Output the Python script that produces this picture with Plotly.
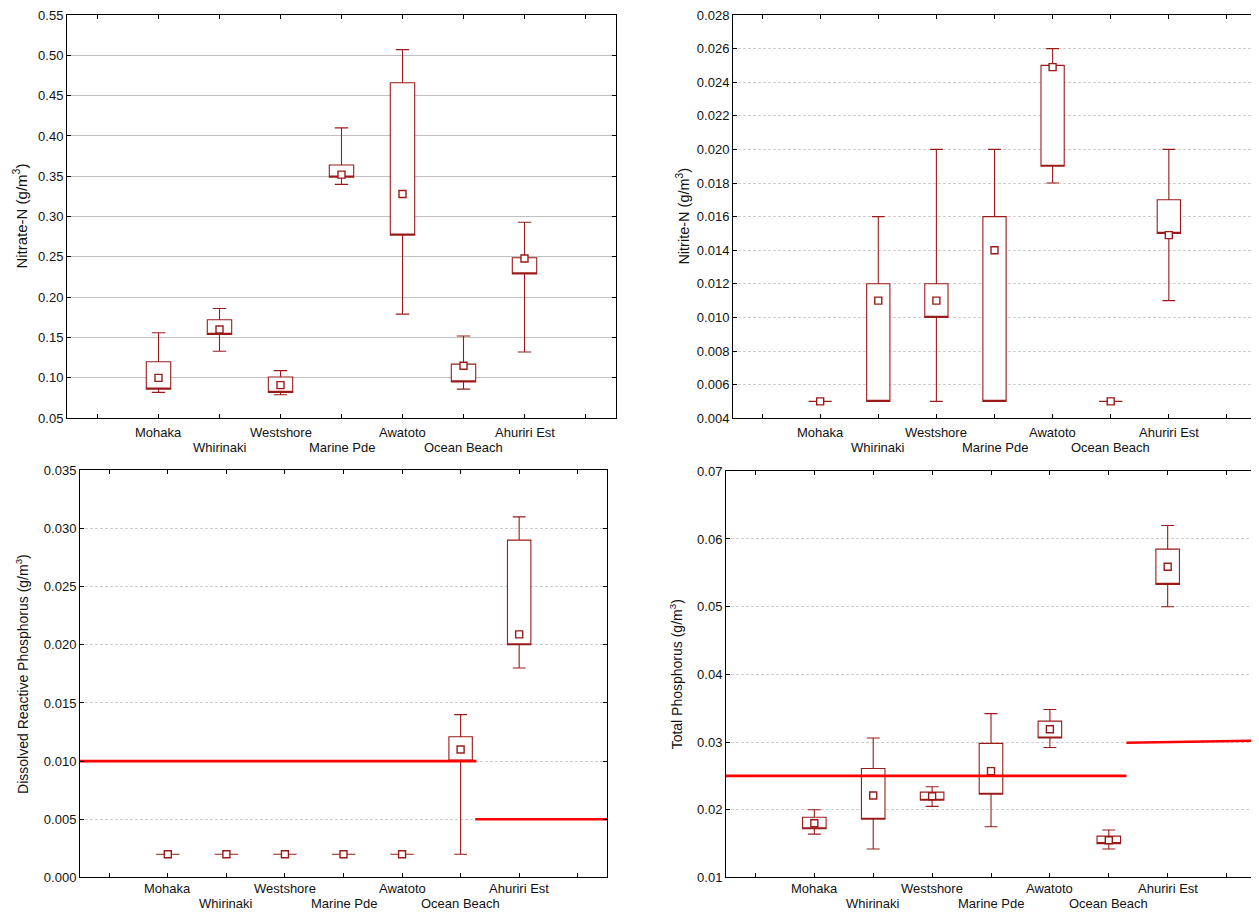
import plotly.graph_objects as go

# page body has an 8px default margin; figure is sized to fill the rest
OFF = 8
W, H = 1259 - OFF, 912 - OFF

sites = ["Mohaka", "Whirinaki", "Westshore", "Marine Pde", "Awatoto", "Ocean Beach", "Ahuriri Est"]
xpos = list(range(len(sites)))

# Nitrate-N (g/m3): min, q1, median, q3, max
no3_min = [0.082, 0.133, 0.079, 0.340, 0.179, 0.086, 0.132]
no3_q1 = [0.086, 0.154, 0.082, 0.349, 0.277, 0.095, 0.229]
no3_med = [0.100, 0.160, 0.091, 0.352, 0.328, 0.115, 0.248]
no3_q3 = [0.120, 0.172, 0.101, 0.364, 0.466, 0.117, 0.249]
no3_max = [0.156, 0.186, 0.109, 0.410, 0.507, 0.152, 0.293]

# Nitrite-N (g/m3)
no2_min = [0.005, 0.005, 0.005, 0.005, 0.018, 0.005, 0.011]
no2_q1 = [0.005, 0.005, 0.010, 0.005, 0.019, 0.005, 0.015]
no2_med = [0.005, 0.011, 0.011, 0.014, 0.0249, 0.005, 0.0149]
no2_q3 = [0.005, 0.012, 0.012, 0.016, 0.025, 0.005, 0.017]
no2_max = [0.005, 0.016, 0.020, 0.020, 0.026, 0.005, 0.020]

# Dissolved Reactive Phosphorus (g/m3)
drp_min = [0.002, 0.002, 0.002, 0.002, 0.002, 0.002, 0.018]
drp_q1 = [0.002, 0.002, 0.002, 0.002, 0.002, 0.010, 0.020]
drp_med = [0.002, 0.002, 0.002, 0.002, 0.002, 0.011, 0.0209]
drp_q3 = [0.002, 0.002, 0.002, 0.002, 0.002, 0.0121, 0.029]
drp_max = [0.002, 0.002, 0.002, 0.002, 0.002, 0.014, 0.031]

# Total Phosphorus (g/m3)
tp_min = [0.0164, 0.0142, 0.0205, 0.0175, 0.0292, 0.0142, 0.050]
tp_q1 = [0.0172, 0.0186, 0.0214, 0.0223, 0.0306, 0.0150, 0.0533]
tp_med = [0.0180, 0.0221, 0.0220, 0.0257, 0.0319, 0.0155, 0.0559]
tp_q3 = [0.0189, 0.0261, 0.0226, 0.0298, 0.0331, 0.0161, 0.0585]
tp_max = [0.0200, 0.0306, 0.0234, 0.0342, 0.0348, 0.0170, 0.0620]

# Guideline lines (x breakpoints in site index units, values)
drp_guide_x = [[-1.5, 5.27], [5.25, 7.5]]
drp_guide_y = [[0.010, 0.010], [0.005, 0.005]]
tp_guide_x = [[-1.5, 5.3], [5.3, 7.5]]
tp_guide_y = [[0.025, 0.025], [0.0299, 0.0302]]

panels = [
    dict(mn=no3_min, q1=no3_q1, med=no3_med, q3=no3_q3, mx=no3_max,
         yr=[0.05, 0.55], dt=0.05, fmt=".2f", title="Nitrate-N (g/m<sup>3</sup>)", tfs=15,
         px=(67, 616), py=(8, 418), tx=20, grid="solid", gx=None, gy=None, ls=(-5, -20)),
    dict(mn=no2_min, q1=no2_q1, med=no2_med, q3=no2_q3, mx=no2_max,
         yr=[0.004, 0.028], dt=0.002, fmt=".3f", title="Nitrite-N (g/m<sup>3</sup>)", tfs=14.5,
         px=(733, 1256), py=(8, 418), tx=683, grid="3px,2px", gx=None, gy=None, ls=(-5, -20)),
    dict(mn=drp_min, q1=drp_q1, med=drp_med, q3=drp_q3, mx=drp_max,
         yr=[0.0, 0.035], dt=0.005, fmt=".3f", title="Dissolved Reactive Phosphorus (g/m<sup>3</sup>)", tfs=14,
         px=(80, 607), py=(471, 885), tx=22, grid="3px,2px", gx=drp_guide_x, gy=drp_guide_y, ls=(-2, -17)),
    dict(mn=tp_min, q1=tp_q1, med=tp_med, q3=tp_q3, mx=tp_max,
         yr=[0.01, 0.07], dt=0.01, fmt=".2f", title="Total Phosphorus (g/m<sup>3</sup>)", tfs=14,
         px=(726, 1256), py=(472, 885), tx=676, grid="3px,2px", gx=tp_guide_x, gy=tp_guide_y, ls=(-2, -17)),
]

BOXC = "#9a1a1a"
FONT = "Liberation Sans, Arial, sans-serif"

fig = go.Figure()
annotations = []
layout_axes = {}

for i, p in enumerate(panels, start=1):
    xa = "x" if i == 1 else f"x{i}"
    ya = "y" if i == 1 else f"y{i}"
    xkey = "xaxis" if i == 1 else f"xaxis{i}"
    ykey = "yaxis" if i == 1 else f"yaxis{i}"

    fig.add_trace(go.Box(
        x=xpos, q1=p["q1"], median=p["q1"], q3=p["q3"],
        lowerfence=p["mn"], upperfence=p["mx"],
        width=0.4, whiskerwidth=0.55,
        line=dict(color=BOXC, width=1.1), fillcolor="white",
        boxpoints=False, showlegend=False, xaxis=xa, yaxis=ya, hoverinfo="skip",
    ))
    fig.add_trace(go.Scatter(
        x=xpos, y=p["med"], mode="markers",
        marker=dict(symbol="square", size=7, color="white", line=dict(color=BOXC, width=1.4)),
        showlegend=False, xaxis=xa, yaxis=ya, hoverinfo="skip",
    ))
    if p["gx"] is not None:
        for gx, gy in zip(p["gx"], p["gy"]):
            fig.add_trace(go.Scatter(
                x=gx, y=gy, mode="lines", line=dict(color="#ff0000", width=2.6),
                showlegend=False, xaxis=xa, yaxis=ya, hoverinfo="skip",
            ))

    x0, x1 = p["px"]
    yt, yb = p["py"]
    layout_axes[xkey] = dict(
        domain=[(x0 - OFF) / W, min(1.0, (x1 - OFF) / W)], range=[-1.5, 7.5], anchor=ya,
        tickvals=list(range(-1, 8)), showticklabels=False,
        ticks="inside", ticklen=4, tickcolor="black", tickwidth=1,
        showline=True, linecolor="black", linewidth=1, mirror="allticks",
        showgrid=False, zeroline=False, fixedrange=True,
    )
    nt = int(round((p["yr"][1] - p["yr"][0]) / p["dt"]))
    layout_axes[ykey] = dict(
        domain=[max(0.0, 1 - (yb - OFF) / H), min(1.0, 1 - (yt - OFF) / H)], range=p["yr"], anchor=xa,
        tickvals=[p["yr"][0] + k * p["dt"] for k in range(nt + 1)], tickformat=p["fmt"],
        ticks="inside", ticklen=4, tickcolor="black", tickwidth=1, ticklabeloverflow="allow",
        showline=True, linecolor="black", linewidth=1, mirror="allticks",
        showgrid=True, gridcolor="#c0c0c0" if p["grid"] == "solid" else "#cfcfcf",
        griddash=p["grid"], gridwidth=1,
        zeroline=False, fixedrange=True, tickfont=dict(size=13, color="#111"),
    )
    # y-axis title
    annotations.append(dict(
        text=p["title"], textangle=-90, xref="paper", yref="paper",
        x=(p["tx"] - OFF) / W, y=1 - ((yt + yb) / 2 - OFF) / H, xanchor="center", yanchor="middle",
        showarrow=False, font=dict(size=p["tfs"], color="#111", family=FONT),
    ))
    # staggered category labels
    for k, s in enumerate(sites):
        annotations.append(dict(
            text=s, xref=xa, yref=f"{ya} domain", x=k, y=0,
            xanchor="center", yanchor="top", yshift=p["ls"][k % 2],
            showarrow=False, font=dict(size=13, color="#111", family=FONT),
        ))

fig.update_layout(
    width=W, height=H, margin=dict(l=0, r=0, t=0, b=0),
    paper_bgcolor="white", plot_bgcolor="white",
    font=dict(family=FONT, size=13, color="#111"),
    annotations=annotations, showlegend=False,
    **layout_axes,
)

fig.write_html("out.html")
